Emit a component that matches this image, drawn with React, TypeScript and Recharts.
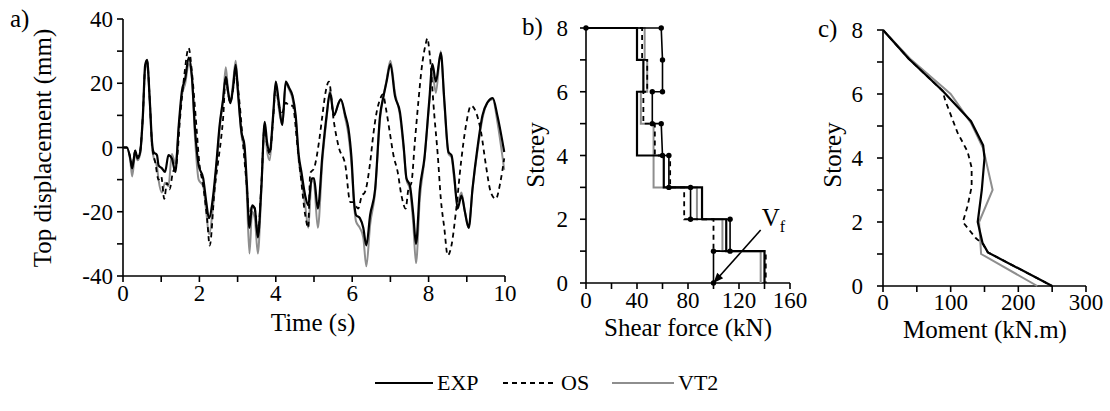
import React from "react"
import { ScatterChart, Scatter, XAxis, YAxis, ReferenceLine } from "recharts"

const FONT = "'Liberation Serif', serif"

// a) top displacement time history
const expTime = [0, 0.1, 0.19, 0.24, 0.32, 0.38, 0.45, 0.52, 0.58, 0.63, 0.7, 0.76, 0.8, 0.89, 0.93, 1.02, 1.1, 1.19, 1.28, 1.37, 1.46, 1.54, 1.63, 1.72, 1.8, 1.89, 1.98, 2.1, 2.18, 2.25, 2.36, 2.44, 2.53, 2.62, 2.69, 2.75, 2.81, 2.88, 2.95, 3.01, 3.1, 3.18, 3.24, 3.31, 3.38, 3.45, 3.53, 3.62, 3.71, 3.77, 3.84, 3.93, 4.0, 4.08, 4.17, 4.26, 4.35, 4.44, 4.52, 4.6, 4.67, 4.77, 4.85, 4.94, 5.0, 5.1, 5.22, 5.33, 5.42, 5.52, 5.65, 5.7, 5.82, 5.9, 5.98, 6.05, 6.1, 6.2, 6.29, 6.37, 6.47, 6.6, 6.73, 6.82, 6.9, 7.0, 7.12, 7.25, 7.35, 7.42, 7.51, 7.6, 7.67, 7.77, 7.89, 8.02, 8.1, 8.19, 8.32, 8.41, 8.52, 8.6, 8.67, 8.76, 8.86, 8.95, 9.05, 9.15, 9.28, 9.41, 9.54, 9.68, 9.8, 9.98]
const expDisp = [0, 0, -3.4, -6.5, -1, -3.4, -1.4, 10, 25.7, 27.3, 15, 1.7, -1.4, -2.4, -5.5, -6.5, -7.6, -2.4, -3.4, -7.6, 7, 17.4, 21.6, 28, 22.6, 4.9, -5.5, -9.6, -17, -22, -15, -5.5, 7, 15, 22, 17.4, 13.8, 18.5, 25.7, 17, 4.9, 0.7, -10.7, -25, -18, -19, -28, -12.8, 8, 1.7, -1.4, 10, 20.5, 14, 7, 20.5, 18.5, 16, 10, -2.4, -7.6, -15, -18, -9.6, -9.6, -19, -2.4, 10, 17, 10, 14, 15, 10, 6, -3, -17, -21, -22, -25, -30.5, -21, -13, 10, 16, 20.5, 26, 16, 11, 0, -9.6, -11.8, -21, -30, -13, -3.4, 15, 26, 20.5, 29.5, 15, -1.4, -2.4, -8.6, -19, -15, -20, -25, -12.8, 0, 10, 14, 15.4, 10, -1.4]
const vt2Disp = [0, 0, -4, -9, -2, -4, -2, 9, 24, 26, 14, 0, -3, -6, -10, -14, -11, -12, -2, -5, 6, 16, 20, 26, 22, 2, -10, -12, -20, -27, -18, -7, 6, 15, 25, 18, 14, 20, 27, 18, 4, -1, -14, -33, -20, -22, -33, -14, 7, -1, -4, 9, 20, 12, 7, 20, 18, 15, 9, -4, -10, -18, -25, -10, -11, -25, -4, 9, 18, 10, 14, 15, 9, 4, -5, -18, -23, -25, -28, -37, -24, -14, 9, 16, 21, 27, 17, 10, -1, -10, -13, -24, -36, -16, -4, 14, 23, 17, 30, 14, -2, -3, -10, -17, -14, -20, -25, -13, -1, 9, 14, 15, 8, -7]
const osTime = [0, 0.1, 0.19, 0.24, 0.32, 0.38, 0.45, 0.52, 0.58, 0.63, 0.7, 0.76, 0.85, 0.93, 1.0, 1.08, 1.15, 1.22, 1.3, 1.4, 1.5, 1.6, 1.72, 1.8, 1.9, 2.0, 2.1, 2.2, 2.27, 2.4, 2.49, 2.57, 2.62, 2.69, 2.75, 2.81, 2.88, 2.95, 3.05, 3.15, 3.24, 3.31, 3.38, 3.45, 3.53, 3.62, 3.71, 3.77, 3.84, 3.93, 4.0, 4.08, 4.17, 4.26, 4.35, 4.44, 4.57, 4.65, 4.77, 4.85, 4.9, 5.0, 5.13, 5.22, 5.3, 5.39, 5.52, 5.65, 5.82, 5.95, 6.02, 6.16, 6.25, 6.33, 6.47, 6.55, 6.64, 6.73, 6.8, 6.9, 6.98, 7.08, 7.19, 7.29, 7.4, 7.47, 7.55, 7.64, 7.73, 7.82, 7.92, 7.97, 8.02, 8.15, 8.24, 8.32, 8.41, 8.5, 8.59, 8.72, 8.85, 8.98, 9.11, 9.24, 9.37, 9.5, 9.63, 9.76, 9.88, 9.98]
const osDisp = [0, 0, -3, -6, -1, -3, -1, 10, 25, 27, 15, 1, -5, -10, -9, -16, -11, -13, -8, -5, 10, 22, 31, 24, 10, -5, -12, -22, -30.5, -12.8, -4.5, 3, 9, 22, 17, 14, 18, 23, 14, 0, -12, -22, -18, -19, -27, -12, 7, 1, -2, 9, 19, 13, 11, 14, 13, 13, 0, -8.6, -21, -25, -8, -6.5, 1.7, 10, 17, 20.5, 8, 0, -5.5, -17, -17, -19, -15, -14, -4.7, 3.8, 11, 15, 16.5, 11, 5, -2.4, -7.6, -15, -19, -13, -11, 1.7, 14, 24.8, 32, 34, 30, 10, -2.4, -16, -25, -33.6, -31, -19.5, -4.5, 7, 13, 11, 5, -5.5, -14, -16, -10.7, -3.4]

// b) storey shear profiles (shear kN, storey)
const markShear = [0, 59, 60, 60, 52, 52, 59, 60, 65, 65, 82, 82, 113, 113, 100, 100]
const markStorey = [8, 8, 7, 6, 6, 5, 5, 4, 4, 3, 3, 2, 2, 1, 1, 0]
const expShear = [0, 40, 40, 45, 45, 40, 40, 61, 61, 91, 91, 110, 110, 140, 140]
const expShearStorey = [8, 8, 7, 7, 6, 6, 4, 4, 3, 3, 2, 2, 1, 1, 0]
const osShear = [0, 44, 44, 48, 48, 45, 45, 54, 54, 66, 66, 77, 77, 100, 100, 141, 141]
const osShearStorey = [8, 8, 7, 7, 6, 6, 5, 5, 4, 4, 3, 3, 2, 2, 1, 1, 0]
const vt2Shear = [0, 46, 46, 48, 48, 43, 43, 53, 53, 87, 87, 107, 107, 137, 137]
const vt2ShearStorey = [8, 8, 7, 7, 6, 6, 5, 5, 3, 3, 2, 2, 1, 1, 0]

// c) moment profiles (kN.m, storey)
const expMoment = [0, 38, 88, 130, 148, 150, 146, 140, 147, 155, 250]
const expMomentStorey = [8, 7.1, 6.1, 5.15, 4.4, 4, 3, 2, 1.35, 1.05, 0]
const osMoment = [0, 38, 88, 92, 110, 125, 131, 131, 125, 118, 137, 148, 155, 250]
const osMomentStorey = [8, 7.1, 6.1, 5.8, 4.8, 4.2, 3.7, 3.1, 2.5, 2, 1.5, 1.3, 1.05, 0]
const vt2Moment = [0, 40, 100, 130, 148, 162, 142, 145, 228]
const vt2MomentStorey = [8, 7.1, 6, 5.1, 4.3, 3, 2, 1, 0]

const zip = (xs: number[], ys: number[]) => xs.map((x, i) => ({ x, y: ys[i] }))

const noDot = () => <g />
const dot = (p: any) => <circle cx={p.cx} cy={p.cy} r={2.7} fill="#000" />

const txt = { fontFamily: FONT }
const axisLine = { stroke: "#000", strokeWidth: 1.6 }
const BLACK = { stroke: "#000", strokeWidth: 2.2 }
const DASHED = { stroke: "#000", strokeWidth: 1.8, strokeDasharray: "5 4" }
const GREY = { stroke: "#8e8e8e", strokeWidth: 2 }

const range = (a: number, b: number, s: number) => {
  const out: number[] = []
  for (let v = a; v <= b; v += s) out.push(v)
  return out
}

// only every n-th value gets a label, the rest are minor ticks
const xTick = (n: number) => (p: any) => {
  const v = p.payload.value
  if (v % n !== 0) return <g />
  return (
    <text x={p.x} y={p.y + 17} textAnchor="middle" fontSize={23} fill="#000" style={txt}>
      {v}
    </text>
  )
}
const yTick = (n: number) => (p: any) => {
  const v = p.payload.value
  if (v % n !== 0) return <g />
  return (
    <text x={p.x} y={p.y + 8} textAnchor="end" fontSize={23} fill="#000" style={txt}>
      {v}
    </text>
  )
}

const Title = ({ x, y, rotate, children }: any) => (
  <text
    x={x}
    y={y}
    textAnchor="middle"
    dominantBaseline="central"
    transform={rotate ? `rotate(-90 ${x} ${y})` : undefined}
    fontSize={25}
    fill="#000"
    style={txt}
  >
    {children}
  </text>
)

const PanelTag = ({ x, y, children }: any) => (
  <text x={x} y={y} fontSize={25} fill="#000" style={txt}>
    {children}
  </text>
)

const arrowShape = (p: any) => {
  const { x1, y1, x2, y2 } = p
  const ang = Math.atan2(y2 - y1, x2 - x1)
  const L = 10
  const W = 4
  const bx = x2 - L * Math.cos(ang)
  const by = y2 - L * Math.sin(ang)
  const px = -Math.sin(ang) * W
  const py = Math.cos(ang) * W
  return (
    <g>
      <line x1={x1} y1={y1} x2={x2} y2={y2} stroke="#000" strokeWidth={1.6} />
      <polygon points={`${x2},${y2} ${bx + px},${by + py} ${bx - px},${by - py}`} fill="#000" />
      <text x={x1 + 1} y={y1 - 4} fontSize={25} fill="#000" style={txt}>
        V<tspan fontSize={16} dy={6}>f</tspan>
      </text>
    </g>
  )
}

const LegendKey = ({ left, width, line, label }: any) => (
  <div style={{ position: "absolute", left, top: 370, height: 26, display: "flex", alignItems: "center" }}>
    <svg width={width} height={26}>
      <line x1={0} y1={13} x2={width} y2={13} {...line} />
    </svg>
    <span style={{ fontFamily: FONT, fontSize: 22, marginLeft: 4, lineHeight: "26px" }}>{label}</span>
  </div>
)

export default function App() {
  return (
    <div style={{ position: "absolute", left: 0, top: 0, width: 1110, height: 411, background: "#fff", fontFamily: FONT }}>
      {/* a) */}
      <div style={{ position: "absolute", left: 0, top: 0 }}>
        <ScatterChart width={520} height={360} margin={{ top: 19, right: 15, bottom: 44, left: 72 }}>
          <XAxis
            type="number"
            dataKey="x"
            domain={[0, 10]}
            ticks={range(0, 10, 1)}
            interval={0}
            tick={xTick(2)}
            axisLine={axisLine}
            tickLine={axisLine}
            tickSize={6}
            tickMargin={2}
            height={40}
          />
          <YAxis
            type="number"
            dataKey="y"
            domain={[-40, 40]}
            ticks={range(-40, 40, 10)}
            interval={0}
            tick={yTick(20)}
            axisLine={axisLine}
            tickLine={axisLine}
            tickSize={6}
            tickMargin={4}
            width={51}
          />
          <Scatter data={zip(expTime, vt2Disp)} line={GREY} lineJointType="monotoneX" shape={noDot} isAnimationActive={false} />
          <Scatter data={zip(osTime, osDisp)} line={DASHED} lineJointType="monotoneX" shape={noDot} isAnimationActive={false} />
          <Scatter data={zip(expTime, expDisp)} line={BLACK} lineJointType="monotoneX" shape={noDot} isAnimationActive={false} />
          <PanelTag x={10} y={27}>a)</PanelTag>
          <Title x={42} y={148} rotate>Top displacement (mm)</Title>
          <Title x={313} y={322}>Time (s)</Title>
        </ScatterChart>
      </div>

      {/* b) */}
      <div style={{ position: "absolute", left: 520, top: 0 }}>
        <ScatterChart width={300} height={360} margin={{ top: 28, right: 30, bottom: 37, left: 26 }}>
          <XAxis
            type="number"
            dataKey="x"
            domain={[0, 160]}
            ticks={range(0, 160, 20)}
            interval={0}
            tick={xTick(40)}
            axisLine={axisLine}
            tickLine={axisLine}
            tickSize={6}
            tickMargin={2}
            height={40}
          />
          <YAxis
            type="number"
            dataKey="y"
            domain={[0, 8]}
            ticks={range(0, 8, 1)}
            interval={0}
            tick={yTick(2)}
            axisLine={axisLine}
            tickLine={axisLine}
            tickSize={6}
            tickMargin={12}
            width={40}
          />
          <Scatter data={zip(vt2Shear, vt2ShearStorey)} line={GREY} shape={noDot} isAnimationActive={false} />
          <Scatter data={zip(osShear, osShearStorey)} line={DASHED} shape={noDot} isAnimationActive={false} />
          <Scatter data={zip(expShear, expShearStorey)} line={BLACK} shape={noDot} isAnimationActive={false} />
          <Scatter data={zip(markShear, markStorey)} line={{ stroke: "#000", strokeWidth: 1.6 }} shape={dot} isAnimationActive={false} />
          <ReferenceLine segment={[{ x: 137, y: 1.66 }, { x: 100, y: 0 }]} shape={arrowShape} ifOverflow="visible" />
          <PanelTag x={2} y={35}>b)</PanelTag>
          <Title x={15} y={155} rotate>Storey</Title>
          <Title x={168} y={327}>Shear force (kN)</Title>
        </ScatterChart>
      </div>

      {/* c) */}
      <div style={{ position: "absolute", left: 810, top: 0 }}>
        <ScatterChart width={300} height={360} margin={{ top: 30, right: 24, bottom: 34, left: 33 }}>
          <XAxis
            type="number"
            dataKey="x"
            domain={[0, 300]}
            ticks={range(0, 300, 50)}
            interval={0}
            tick={xTick(100)}
            axisLine={axisLine}
            tickLine={axisLine}
            tickSize={6}
            tickMargin={1}
            height={40}
          />
          <YAxis
            type="number"
            dataKey="y"
            domain={[0, 8]}
            ticks={range(0, 8, 1)}
            interval={0}
            tick={yTick(2)}
            axisLine={axisLine}
            tickLine={axisLine}
            tickSize={6}
            tickMargin={14}
            width={40}
          />
          <Scatter data={zip(vt2Moment, vt2MomentStorey)} line={GREY} shape={noDot} isAnimationActive={false} />
          <Scatter data={zip(osMoment, osMomentStorey)} line={DASHED} shape={noDot} isAnimationActive={false} />
          <Scatter data={zip(expMoment, expMomentStorey)} line={BLACK} shape={noDot} isAnimationActive={false} />
          <PanelTag x={8} y={37}>c)</PanelTag>
          <Title x={22} y={155} rotate>Storey</Title>
          <Title x={175} y={329}>Moment (kN.m)</Title>
        </ScatterChart>
      </div>

      <LegendKey left={375} width={58} line={{ stroke: "#000", strokeWidth: 2.2 }} label="EXP" />
      <LegendKey left={503} width={54} line={{ stroke: "#000", strokeWidth: 1.8, strokeDasharray: "5 4" }} label="OS" />
      <LegendKey left={612} width={62} line={{ stroke: "#8e8e8e", strokeWidth: 2 }} label="VT2" />
    </div>
  )
}
